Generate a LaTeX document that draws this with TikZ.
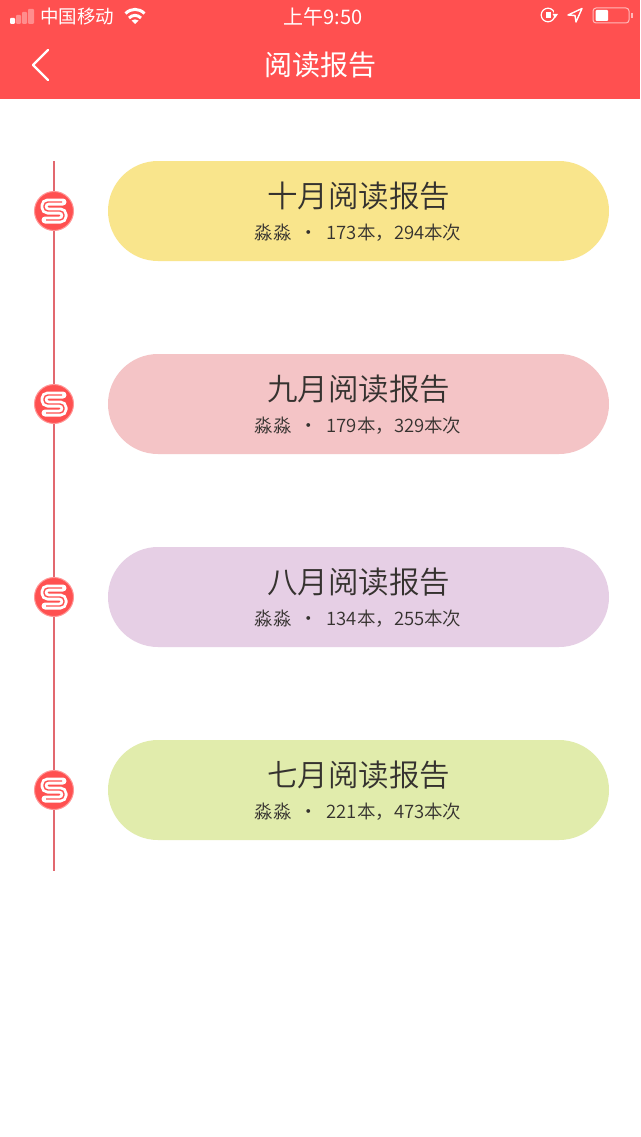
\documentclass[tikz,border=0pt]{standalone}
\usepackage{fontspec}
\usepackage{xcolor}
\setmainfont{Noto Sans CJK SC}[UprightFont=* DemiLight]
\newfontfamily\regfont{Noto Sans CJK SC}
\definecolor{headred}{HTML}{FF5050}
\definecolor{linered}{HTML}{E2686F}
\definecolor{textgray}{HTML}{35322F}
\definecolor{cardyellow}{HTML}{F9E58C}
\definecolor{cardpink}{HTML}{F4C4C6}
\definecolor{cardpurple}{HTML}{E6CFE5}
\definecolor{cardgreen}{HTML}{E1ECAC}
\tikzset{
	card/.style={rounded corners=50pt,minimum width=501pt,minimum height=100pt,inner sep=0pt},
	cardtitle/.style={text=textgray,font=\fontsize{30.5}{30}\selectfont,inner sep=0pt},
	cardsub/.style={text=textgray,font=\fontsize{18.5}{18}\selectfont,inner sep=0pt},
	dot/.style={circle,fill=headred,draw=headred!60,line width=1pt,minimum size=39pt,inner sep=0pt},
	bartext/.style={text=white,inner sep=0pt}
}
\begin{document}
\begin{tikzpicture}[x=1pt,y=-1pt]
	\useasboundingbox (0,0) rectangle (640,1137);
	\fill[white] (0,0) rectangle (640,1137);
	\fill[headred] (0,0) rectangle (640,99);

	% status bar
	\fill[white,rounded corners=1pt] (10,18) rectangle (15,24);
	\fill[white,opacity=.35,rounded corners=1pt] (16,15) rectangle (21,24);
	\fill[white,opacity=.35,rounded corners=1pt] (22,12) rectangle (27,24);
	\fill[white,opacity=.35,rounded corners=1pt] (28,9) rectangle (34,24);
	\node[bartext,font=\regfont\fontsize{18.5}{18}\selectfont] (carrier) at (77,16.5) {中国移动};
	\draw[white,line width=3pt] (125.5,13.5) .. controls (131,8) and (139,8) .. (144.5,13.5);
	\draw[white,line width=3pt] (129,18) .. controls (132.5,14.5) and (137.5,14.5) .. (141,18);
	\fill[white] (135,24) -- (131.5,20.5) .. controls (133.5,19) and (136.5,19) .. (138.5,20.5) -- cycle;
	\node[bartext,font=\regfont\fontsize{20}{18}\selectfont] (clock) at (323,16.5) {上午9:50};
	\draw[white,line width=1.2pt] (548,15) circle (6.8pt);
	\fill[white] (545.5,12.5) rectangle (550.5,18.5);
	\fill[headred] (553.5,11) rectangle (558,16);
	\fill[white] (552.5,14) -- (558,14) -- (555.2,18) -- cycle;
	\draw[white,line width=1.4pt,line join=round] (568,15) -- (582,8.5) -- (576,22) -- (575,15.5) -- cycle;
	\draw[white,opacity=.6,line width=1pt,rounded corners=3pt] (593,8) rectangle (629,23);
	\fill[white,rounded corners=1pt] (595.5,10) rectangle (608,21);
	\fill[white,opacity=.6] (631,13) rectangle (632.5,18);

	% title bar
	\draw[white,line width=2.4pt,line cap=round,line join=round] (48,50) -- (33,65) -- (48,80);
	\node[bartext,font=\regfont\fontsize{28}{28}\selectfont] (title) at (320,65) {阅读报告};

	% time line
	\coordinate (linetop) at (54,161);
	\coordinate (linebottom) at (54,871);
	\draw[linered,line width=1.6pt] (linetop) -- (linebottom);

	\foreach \y/\cardcol/\month/\stats/\id in {
		211/cardyellow/十月/173本，294本次/a,
		404/cardpink/九月/179本，329本次/b,
		597/cardpurple/八月/134本，255本次/c,
		790/cardgreen/七月/221本，473本次/d}{
		\node[dot] (dot\id) at (54,\y) {};
		\draw[white,line width=7pt,rounded corners=4pt,line cap=round,shift={(54,\y)}]
			(9,-9) -- (-10,-9) -- (-10,0) -- (10,0) -- (10,9) -- (-9,9);
		\draw[headred,line width=1.4pt,rounded corners=4pt,shift={(54,\y)}]
			(8,-9) -- (-10,-9) -- (-10,0) -- (10,0) -- (10,9) -- (-8,9);
		\node[card,fill=\cardcol] (card\id) at (358.5,\y) {};
		\node[cardtitle] (month\id) at (358.5,\y-15) {\month 阅读报告};
		\node[cardsub] (stats\id) at (358,\y+21.5) {淼淼\ \ ·\ \ \stats};
	}
\end{tikzpicture}
\end{document}
